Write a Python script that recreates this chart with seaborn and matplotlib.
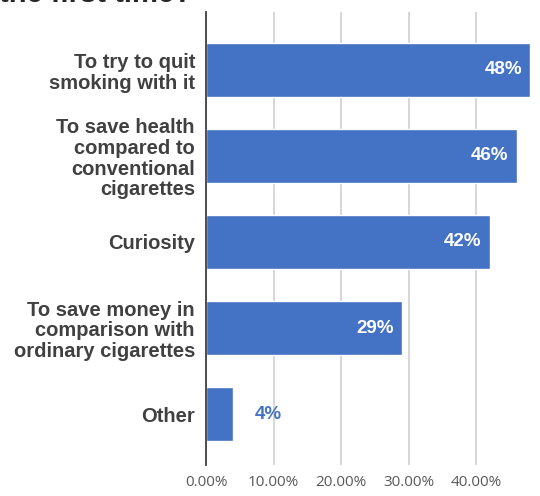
import matplotlib
matplotlib.use("Agg")
import matplotlib.pyplot as plt
import seaborn as sns
import pandas as pd
from matplotlib.ticker import FuncFormatter

categories = [
    "To try to quit\nsmoking with it",
    "To save health\ncompared to\nconventional\ncigarettes",
    "Curiosity",
    "To save money in\ncomparison with\nordinary cigarettes",
    "Other",
]
shares = [0.48, 0.46, 0.42, 0.29, 0.04]
value_labels = ["48%", "46%", "42%", "29%", "4%"]
x_ticks = [0.0, 0.1, 0.2, 0.3, 0.4]

df = pd.DataFrame({"reason": categories, "share": shares})

sns.set_theme(style="white")
plt.rcParams["font.family"] = ["Liberation Sans", "DejaVu Sans"]

bar_color = "#4472C4"
fig = plt.figure(figsize=(5.4, 4.96), dpi=100)
ax = fig.add_axes([206 / 540, 1 - 465 / 496, (530 - 206) / 540, (465 - 12) / 496])

sns.barplot(data=df, x="share", y="reason", orient="h", color=bar_color,
            saturation=1, width=0.63, ax=ax)

ax.set_xlim(0, 0.48)
ax.set_ylim(len(categories) - 1 + 0.59, -0.67)
ax.set_xticks(x_ticks)
ax.xaxis.set_major_formatter(FuncFormatter(lambda v, _: f"{v * 100:.2f}%"))
ax.grid(axis="x", color="#D0D0D0", linewidth=1.2)
ax.set_axisbelow(True)
for side in ["top", "right", "bottom"]:
    ax.spines[side].set_visible(False)
ax.spines["left"].set_color("#404040")
ax.spines["left"].set_linewidth(1.3)
ax.set_xlabel("")
ax.set_ylabel("")
ax.tick_params(axis="x", length=0, pad=7, labelsize=11, labelcolor="#595959")
ax.tick_params(axis="y", length=0, pad=8)
for lbl in ax.get_xticklabels():
    lbl.set_family(["Open Sans", "DejaVu Sans"])
for lbl in ax.get_yticklabels():
    lbl.set_fontsize(14.5)
    lbl.set_fontweight("bold")
    lbl.set_color("#404040")
    lbl.set_multialignment("right")
    lbl.set_linespacing(1.12)

# value labels: inside the bar end when it fits, otherwise just past it
for i, (v, txt) in enumerate(zip(shares, value_labels)):
    if v > 0.1:
        ax.text(v - 0.012, i, txt, ha="right", va="center", color="white",
                fontsize=13.5, fontweight="bold")
    else:
        ax.text(v + 0.032, i, txt, ha="left", va="center", color=bar_color,
                fontsize=13.5, fontweight="bold")

# title, partly running off the top edge
fig.text(192 / 540, 1 - 2 / 496, "the first time?", ha="right", va="baseline",
         fontsize=21, fontweight="bold", color="#262626")

fig.savefig("out.png", dpi=100)
